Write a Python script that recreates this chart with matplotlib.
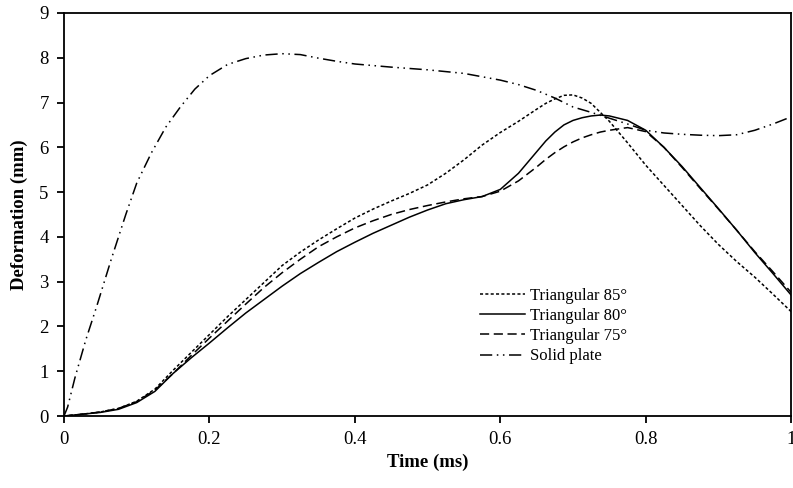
import matplotlib
matplotlib.use('Agg')
import matplotlib.pyplot as plt

plt.rcParams['font.family'] = ['Liberation Serif', 'DejaVu Serif']

# time grid shared by the triangular cases (ms)
t_tri = [0, 0.025, 0.05, 0.075, 0.1, 0.125, 0.15, 0.175, 0.2, 0.225,
         0.25, 0.275, 0.3, 0.325, 0.35, 0.375, 0.4, 0.425, 0.45, 0.475,
         0.5, 0.525, 0.55, 0.575, 0.6, 0.625, 0.65, 0.6625, 0.675, 0.6875,
         0.7, 0.7125, 0.725, 0.7375, 0.75, 0.775, 0.8, 0.825, 0.85, 0.875,
         0.9, 0.925, 0.95, 0.975, 1.0]

tri_85 = [0, 0.04, 0.09, 0.17, 0.33, 0.6, 1.02, 1.42, 1.82, 2.22,
          2.6, 2.98, 3.36, 3.66, 3.93, 4.18, 4.42, 4.62, 4.8, 4.97,
          5.16, 5.42, 5.72, 6.05, 6.33, 6.58, 6.85, 6.98, 7.08, 7.16,
          7.17, 7.1, 6.98, 6.78, 6.58, 6.1, 5.6, 5.15, 4.7, 4.25,
          3.83, 3.45, 3.1, 2.72, 2.33]

tri_80 = [0, 0.04, 0.08, 0.15, 0.3, 0.55, 0.95, 1.3, 1.63, 1.97,
          2.3, 2.6, 2.9, 3.18, 3.43, 3.67, 3.88, 4.08, 4.26, 4.44,
          4.6, 4.74, 4.83, 4.9, 5.06, 5.42, 5.9, 6.14, 6.34, 6.5,
          6.6, 6.66, 6.7, 6.72, 6.7, 6.6, 6.38, 6.0, 5.57, 5.1,
          4.63, 4.15, 3.65, 3.18, 2.7]

tri_75 = [0, 0.04, 0.09, 0.17, 0.32, 0.58, 0.95, 1.35, 1.74, 2.12,
          2.5, 2.87, 3.2, 3.5, 3.78, 4.0, 4.2, 4.36, 4.5, 4.61,
          4.7, 4.78, 4.85, 4.9, 5.02, 5.25, 5.56, 5.73, 5.88, 6.01,
          6.12, 6.21, 6.28, 6.34, 6.38, 6.44, 6.35, 6.0, 5.55, 5.08,
          4.62, 4.15, 3.67, 3.22, 2.76]

t_solid = [0, 0.005, 0.015, 0.03, 0.045, 0.065, 0.085, 0.1, 0.12, 0.14,
           0.16, 0.18, 0.2, 0.225, 0.25, 0.275, 0.3, 0.325, 0.35, 0.375,
           0.4, 0.45, 0.5, 0.55, 0.6, 0.625, 0.65, 0.675, 0.7, 0.725,
           0.75, 0.775, 0.8, 0.825, 0.85, 0.875, 0.9, 0.925, 0.95, 0.975, 1.0]

solid_plate = [0, 0.2, 0.85, 1.7, 2.45, 3.5, 4.5, 5.2, 5.87, 6.45,
               6.9, 7.3, 7.6, 7.85, 7.98, 8.06, 8.09, 8.07, 7.99, 7.92,
               7.86, 7.79, 7.73, 7.65, 7.5, 7.4, 7.27, 7.1, 6.9, 6.78,
               6.65, 6.52, 6.38, 6.32, 6.29, 6.27, 6.26, 6.28, 6.38, 6.52, 6.68]

labels = ['Triangular 85°', 'Triangular 80°', 'Triangular 75°', 'Solid plate']

fig = plt.figure(figsize=(7.93, 4.88), dpi=100)
ax = fig.add_axes([0.0807, 0.1475, 0.917, 0.826])

lw = 1.1
ax.plot(t_tri, tri_85, color='black', lw=lw, linestyle=(0, (2, 1.5)), label=labels[0])
ax.plot(t_tri, tri_80, color='black', lw=lw, linestyle='-', label=labels[1])
ax.plot(t_tri, tri_75, color='black', lw=lw, linestyle=(0, (6, 3)), label=labels[2])
ax.plot(t_solid, solid_plate, color='black', lw=lw,
        linestyle=(0, (8, 3, 1, 3, 1, 3)), label=labels[3])

ax.set_xlim(0, 1)
ax.set_ylim(0, 9)
ax.set_xticks([0, 0.2, 0.4, 0.6, 0.8, 1])
ax.set_xticklabels(['0', '0.2', '0.4', '0.6', '0.8', '1'])
ax.set_yticks(range(0, 10))

for s in ax.spines.values():
    s.set_linewidth(1.3)
ax.tick_params(direction='out', length=5, width=1.3, labelsize=13.5, pad=6)

ax.set_xlabel('Time (ms)', fontsize=13.5, fontweight='bold', labelpad=4)
ax.set_ylabel('Deformation (mm)', fontsize=13.5, fontweight='bold', labelpad=8)

ax.legend(loc='upper left', bbox_to_anchor=(0.552, 0.355), frameon=False,
          fontsize=12, handlelength=2.7, handletextpad=0.3, labelspacing=0.25)

fig.savefig('out.png', dpi=100)
